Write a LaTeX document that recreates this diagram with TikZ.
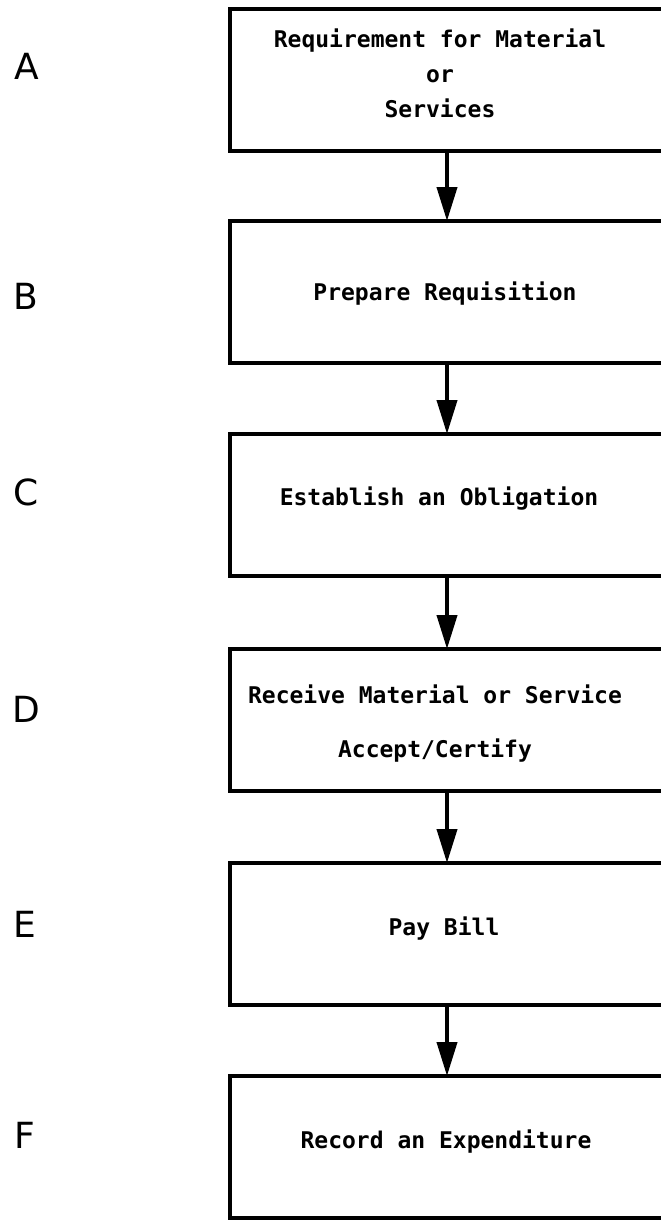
\documentclass[tikz,border=0pt]{standalone}
\usepackage{fontspec}
\usetikzlibrary{arrows.meta}
\newfontfamily\boxfont{DejaVu Sans Mono}
\newfontfamily\lblfont{DejaVu Sans}
\begin{document}
\begin{tikzpicture}[x=1pt,y=-1pt,
  box/.style={draw, line width=4.5pt, rectangle, minimum width=480pt, minimum height=142pt,
              anchor=north west, inner sep=0pt, outer sep=0pt},
  txt/.style={font=\boxfont\bfseries\fontsize{23}{35}\selectfont, inner sep=0pt, align=center},
  txtwide/.style={font=\boxfont\bfseries\fontsize{23}{54}\selectfont, inner sep=0pt, align=center},
  lbl/.style={font=\lblfont\fontsize{36}{40}\selectfont, inner sep=0pt},
  arr/.style={line width=4pt, -{Triangle[length=34pt,width=20pt]}}]
\useasboundingbox (0,0) rectangle (661,1221);
\clip (0,0) rectangle (661,1221);
\fill[white] (0,0) rectangle (661,1221);

% boxes
\node[box] (bA) at (230,9) {};
\node[box] (bB) at (230,221) {};
\node[box] (bC) at (230,434) {};
\node[box] (bD) at (230,649) {};
\node[box] (bE) at (230,863) {};
\node[box] (bF) at (230,1076) {};

% texts
\node[txt] (tA) at (440,73) {Requirement for Material\\or\\Services};
\node[txt, anchor=base] (tB) at (445,300) {Prepare Requisition};
\node[txt, anchor=base] (tC) at (439,505) {Establish an Obligation};
\node[txtwide] (tD) at (435,724) {Receive Material or Service\\Accept/Certify};
\node[txt, anchor=base] (tE) at (444,935) {Pay Bill};
\node[txt, anchor=base] (tF) at (446,1148) {Record an Expenditure};

% side letters
\node[lbl] (lA) at (27,66) {A};
\node[lbl] (lB) at (26,296) {B};
\node[lbl] (lC) at (26,492) {C};
\node[lbl] (lD) at (26,709) {D};
\node[lbl] (lE) at (25,924) {E};
\node[lbl] (lF) at (25,1135) {F};

% arrows
\coordinate (ax) at (447,0);
\draw[arr] (bA.south -| ax) -- (bB.north -| ax);
\draw[arr] (bB.south -| ax) -- (bC.north -| ax);
\draw[arr] (bC.south -| ax) -- (bD.north -| ax);
\draw[arr] (bD.south -| ax) -- (bE.north -| ax);
\draw[arr] (bE.south -| ax) -- (bF.north -| ax);
\end{tikzpicture}
\end{document}
